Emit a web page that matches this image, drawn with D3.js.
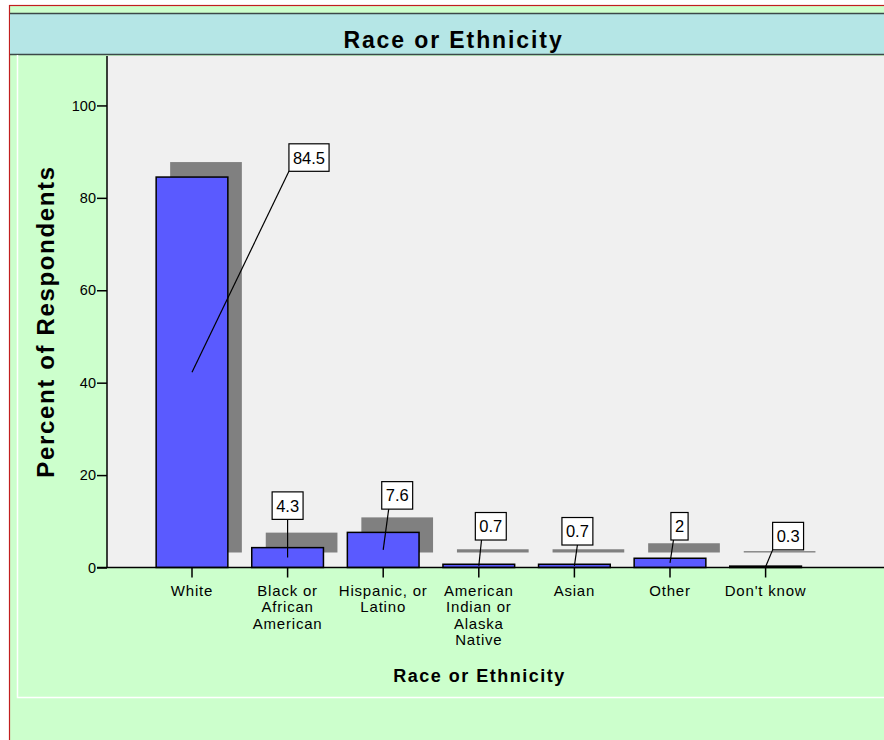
<!DOCTYPE html>
<html>
<head>
<meta charset="utf-8">
<script src="https://cdn.jsdelivr.net/npm/d3@7"></script>
<style>
  html, body { margin: 0; padding: 0; background: #ffffff; }
  svg { display: block; }
  text { font-family: "Liberation Sans", Arial, Helvetica, sans-serif; fill: #000; }
</style>
</head>
<body>
<svg id="chart" width="884" height="740"></svg>
<script>
// Survey responses by race or ethnicity (percent of respondents)
const categories = [
  "White",
  "Black or African American",
  "Hispanic, or Latino",
  "American Indian or Alaska Native",
  "Asian",
  "Other",
  "Don't know"
];
// Category labels broken into the lines shown under each tick
const categoryLines = [
  ["White"],
  ["Black or", "African", "American"],
  ["Hispanic, or", "Latino"],
  ["American", "Indian or", "Alaska", "Native"],
  ["Asian"],
  ["Other"],
  ["Don't know"]
];
const percents = [84.5, 4.3, 7.6, 0.7, 0.7, 2, 0.3];
const valueLabels = ["84.5", "4.3", "7.6", "0.7", "0.7", "2", "0.3"];
const yTicks = [0, 20, 40, 60, 80, 100];

const chartTitle = "Race or Ethnicity";
const xTitle = "Race or Ethnicity";
const yTitle = "Percent of Respondents";

// Callout placement: box centre offset (px) from the top-centre of its bar,
// and where the leader meets the box's lower edge (fraction of half-width)
const calloutOffset = [[117, -19.5], [0, -42], [14, -37], [12, -38], [3, -33], [9.5, -32], [22.5, -30]];
const leaderAttach = [-1, 0, -0.55, -0.6, 0, -0.7, -1];

const W = 884, H = 740;
const plot = { left: 107, top: 56, right: 884, bottom: 567.5 };
const shadowDx = 14, shadowDy = -15;

const svg = d3.select("#chart");

// ---- frame ----
svg.append("rect").attr("x", 9.5).attr("y", 5.5).attr("width", W).attr("height", H)
  .attr("fill", "#ccffcc").attr("stroke", "#c21f1f").attr("stroke-width", 1.2);

// title band
svg.append("rect").attr("x", 10).attr("y", 13.5).attr("width", W).attr("height", 41)
  .attr("fill", "#b5e6e6");
svg.append("line").attr("x1", 10).attr("x2", W).attr("y1", 13.5).attr("y2", 13.5)
  .attr("stroke", "#3c4848").attr("stroke-width", 1.5);
svg.append("line").attr("x1", 10).attr("x2", W).attr("y1", 54.5).attr("y2", 54.5)
  .attr("stroke", "#3c4848").attr("stroke-width", 1.5);

svg.append("text").attr("x", 453.5).attr("y", 47.5).attr("text-anchor", "middle")
  .style("font-size", "23px").style("font-weight", "bold").style("letter-spacing", "1.9px")
  .text(chartTitle);

// inner light border of the chart panel
svg.append("path").attr("d", `M17.5,55 V697.5 H${W}`)
  .attr("fill", "none").attr("stroke", "#ffffff").attr("stroke-width", 1.5);

// plot background
svg.append("rect").attr("x", plot.left).attr("y", plot.top)
  .attr("width", plot.right - plot.left).attr("height", plot.bottom - plot.top)
  .attr("fill", "#f0f0f0");

// ---- scales ----
const x = d3.scaleBand().domain(categories).range([144.2, 813.4])
  .paddingInner(0.25).paddingOuter(0.125);
const y = d3.scaleLinear().domain([0, 110.7]).range([plot.bottom, plot.top]);

const data = categories.map((c, i) => ({ cat: c, v: percents[i], label: valueLabels[i], lines: categoryLines[i], i }));

// ---- bars with drop shadow ----
svg.append("g").selectAll("rect").data(data).join("rect")
  .attr("x", d => x(d.cat) + shadowDx)
  .attr("y", d => y(d.v) + shadowDy)
  .attr("width", x.bandwidth())
  .attr("height", d => y(0) - y(d.v))
  .attr("fill", "#808080");

svg.append("g").selectAll("rect").data(data).join("rect")
  .attr("x", d => x(d.cat))
  .attr("y", d => y(d.v))
  .attr("width", x.bandwidth())
  .attr("height", d => y(0) - y(d.v))
  .attr("fill", "#5a5aff").attr("stroke", "#000").attr("stroke-width", 1.5);

// ---- axes ----
const yAxis = svg.append("g").attr("transform", `translate(${plot.left},0)`)
  .call(d3.axisLeft(y).tickValues(yTicks).tickSize(10).tickPadding(1).tickFormat(d3.format("d")));
yAxis.select(".domain").remove();
yAxis.selectAll(".tick line").attr("stroke", "#000").attr("stroke-width", 1.5);
yAxis.selectAll(".tick text").style("font-size", "14.5px").style("font-family", "'Liberation Sans', Arial, sans-serif");
svg.append("line").attr("x1", plot.left).attr("x2", plot.left).attr("y1", plot.top).attr("y2", plot.bottom)
  .attr("stroke", "#000").attr("stroke-width", 1.5);

const xAxis = svg.append("g").attr("transform", `translate(0,${plot.bottom})`)
  .call(d3.axisBottom(x).tickSize(10).tickPadding(0));
xAxis.select(".domain").remove();
xAxis.selectAll(".tick line").attr("stroke", "#000").attr("stroke-width", 1.5);
xAxis.selectAll(".tick text").each(function(c) {
  const lines = categoryLines[categories.indexOf(c)];
  const t = d3.select(this).text(null)
    .attr("y", 0).attr("dy", null)
    .style("font-size", "15px").style("letter-spacing", "0.8px")
    .style("font-family", "'Liberation Sans', Arial, sans-serif");
  lines.forEach((ln, k) => {
    t.append("tspan").attr("x", 0).attr("y", 28 + k * 16.5).text(ln);
  });
});
svg.append("line").attr("x1", plot.left - 10).attr("x2", plot.right).attr("y1", plot.bottom).attr("y2", plot.bottom)
  .attr("stroke", "#000").attr("stroke-width", 1.5);

// axis titles
svg.append("text").attr("x", 479.5).attr("y", 681.5).attr("text-anchor", "middle")
  .style("font-size", "18px").style("font-weight", "bold").style("letter-spacing", "1.5px")
  .text(xTitle);
svg.append("text").attr("transform", "translate(53.5,321.5) rotate(-90)").attr("text-anchor", "middle")
  .style("font-size", "24px").style("font-weight", "bold").style("letter-spacing", "1.65px")
  .text(yTitle);

// ---- value callouts ----
const callouts = svg.append("g");
data.forEach(d => {
  const cx = x(d.cat) + x.bandwidth() / 2 + calloutOffset[d.i][0];
  const cy = y(d.v) + calloutOffset[d.i][1];
  const g = callouts.append("g");
  const box = g.append("rect").attr("fill", "#fff").attr("stroke", "#000").attr("stroke-width", 1.2);
  const txt = g.append("text").attr("x", cx).attr("y", cy + 6).attr("text-anchor", "middle")
    .style("font-size", "16.5px").text(d.label);
  const tw = txt.node().getComputedTextLength();
  const bw = tw + 8, bh = 27.5;
  box.attr("x", cx - bw / 2).attr("y", cy - bh / 2).attr("width", bw).attr("height", bh);
  g.insert("line", "rect")
    .attr("x1", x(d.cat) + x.bandwidth() / 2).attr("y1", y(d.v / 2))
    .attr("x2", cx + leaderAttach[d.i] * bw / 2).attr("y2", cy + bh / 2)
    .attr("stroke", "#000").attr("stroke-width", 1.2);
});
</script>
</body>
</html>
